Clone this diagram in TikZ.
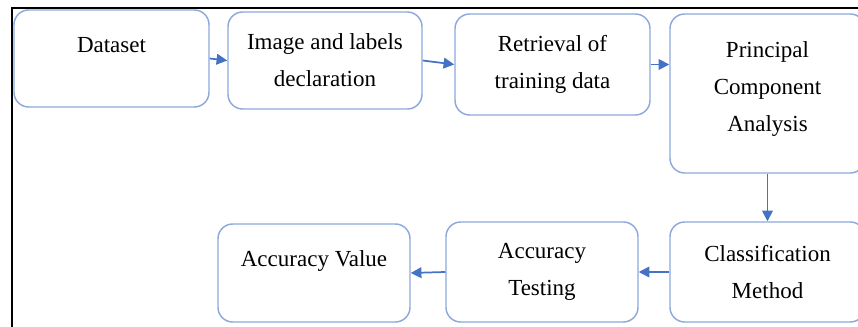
\documentclass[tikz,border=0pt]{standalone}
\usepackage{fontspec}
\setmainfont{Liberation Serif}
\usetikzlibrary{arrows.meta}
\definecolor{boxblue}{HTML}{8EA9DB}
\definecolor{arrowblue}{HTML}{4472C4}
\begin{document}
\begin{tikzpicture}[x=0.75pt,y=-0.75pt,
    stage/.style={draw=boxblue,line width=1.1pt,rounded corners=11pt,align=center,
        inner sep=0pt,font=\fontsize{17.25}{27.75}\selectfont},
    toptext/.style={text depth=21pt},
    flow/.style={draw=arrowblue,line width=1.3pt,-{Triangle[length=8pt,width=8pt]}}]

    \useasboundingbox (0,0) rectangle (858,327);
    \draw[line width=2.2pt] (858,8)--(12,8)--(12,327);

    % first row
    \node[stage,toptext,minimum width=146.25pt,minimum height=72.75pt] (data) at (111.5,58.5) {Dataset};
    \node[stage,minimum width=145.5pt,minimum height=72.75pt] (decl) at (325,60.5) {Image and labels\\declaration};
    \node[stage,minimum width=146.25pt,minimum height=75.75pt] (retr) at (552.5,64.5) {Retrieval of\\training data};
    \node[stage,text depth=11pt,minimum width=146.25pt,minimum height=119.25pt] (pca) at (767.5,93.5) {Principal\\Component\\Analysis};

    % second row
    \node[stage,minimum width=146.25pt,minimum height=75pt] (clas) at (767.5,272) {Classification\\Method};
    \node[stage,minimum width=144pt,minimum height=75pt] (test) at (542,272) {Accuracy\\Testing};
    \node[stage,toptext,minimum width=144pt,minimum height=73.5pt] (accv) at (314,273) {Accuracy Value};

    \draw[flow] (data.east)--(decl.west);
    \draw[flow] (decl.east)--(retr.west);
    \draw[flow] (retr.east)--(retr.east -| pca.west);
    \draw[flow] (pca.south)--(clas.north);
    \draw[flow] (clas.west)--(test.east);
    \draw[flow] (test.west)--(accv.east);
\end{tikzpicture}
\end{document}
